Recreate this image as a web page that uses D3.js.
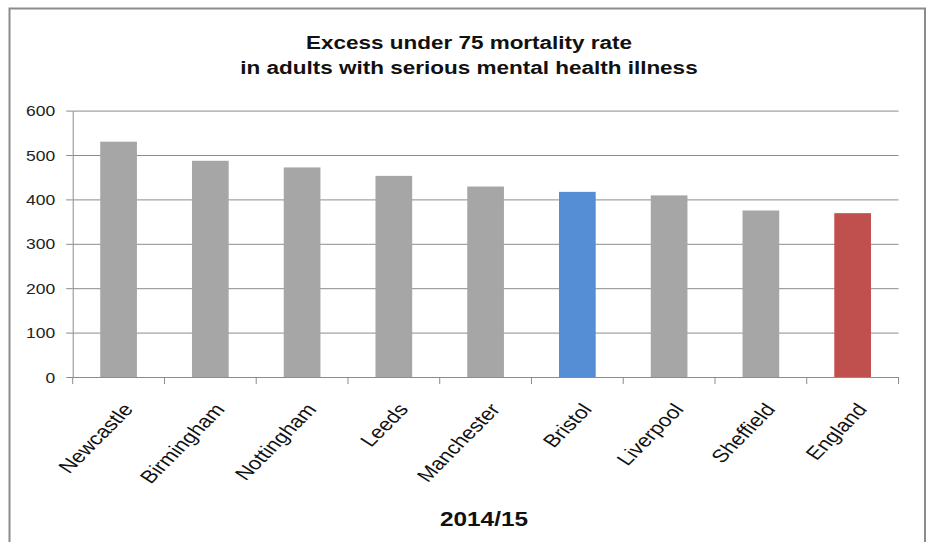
<!DOCTYPE html>
<html>
<head>
<meta charset="utf-8">
<script src="https://cdn.jsdelivr.net/npm/d3@7"></script>
<style>
  html, body { margin: 0; padding: 0; background: #fff; }
  svg { display: block; }
  text { font-family: "Liberation Sans", Arial, sans-serif; }
</style>
</head>
<body>
<script>
const categories = ["Newcastle", "Birmingham", "Nottingham", "Leeds", "Manchester", "Bristol", "Liverpool", "Sheffield", "England"];
const values = [530, 487, 472, 453, 429, 417, 409, 375, 369];
const yTicks = [0, 100, 200, 300, 400, 500, 600];
const titleLines = ["Excess under 75 mortality rate", "in adults with serious mental health illness"];
const xTitle = "2014/15";

const W = 931, H = 542;
const SX = 1.25; // horizontal stretch of text seen in the reference
const plotLeft = 72.7, plotRight = 898.5, plotTop = 110.6, plotBottom = 377;

const svg = d3.select("body").append("svg").attr("width", W).attr("height", H);
svg.append("rect").attr("width", W).attr("height", H).attr("fill", "#fff");

// outer chart border
svg.append("rect").attr("x", 9.5).attr("y", 8.5).attr("width", 915.5).attr("height", 560)
  .attr("fill", "none").attr("stroke", "#8c8c8c").attr("stroke-width", 2);

const x = d3.scaleBand().domain(categories).range([plotLeft, plotRight]).paddingInner(0.6).paddingOuter(0.3);
const y = d3.scaleLinear().domain([0, 600]).range([plotBottom, plotTop]);

// gridlines
const grid = svg.append("g").attr("transform", `translate(${plotLeft},0)`)
  .call(d3.axisRight(y).tickValues(yTicks).tickSize(plotRight - plotLeft).tickFormat(""));
grid.select(".domain").remove();
grid.selectAll("line").attr("stroke", "#8c8c8c").attr("stroke-width", 1);

// y axis
const ya = svg.append("g").attr("transform", `translate(${plotLeft},0)`)
  .call(d3.axisLeft(y).tickValues(yTicks).tickSize(6.5).tickSizeOuter(0));
ya.select(".domain").attr("stroke", "#8c8c8c");
ya.selectAll("line").attr("stroke", "#8c8c8c");
ya.selectAll("text")
  .attr("x", null).attr("dy", null)
  .attr("text-anchor", "end")
  .attr("font-size", 14).attr("fill", "#222")
  .attr("font-family", "Liberation Sans, Arial, sans-serif")
  .attr("transform", d => `translate(-17.5,${5})scale(${SX},1)`);

// bars
const colorFor = c => c === "Bristol" ? "#558ed5" : (c === "England" ? "#c0504d" : "#a6a6a6");
svg.append("g").selectAll("rect").data(categories).join("rect")
  .attr("x", d => x(d))
  .attr("y", (d, i) => y(values[i]))
  .attr("width", x.bandwidth())
  .attr("height", (d, i) => y(0) - y(values[i]))
  .attr("fill", d => colorFor(d));

// x axis
const step = x.step();
const offset = (step - x.bandwidth()) / 2;
const bounds = categories.map(c => x(c) - offset).concat([x(categories[categories.length - 1]) + x.bandwidth() + offset]);
const xa = svg.append("g").attr("transform", `translate(0,${plotBottom})`)
  .call(d3.axisBottom(x).tickValues([]).tickSizeOuter(0));
xa.select(".domain").attr("stroke", "#8c8c8c");
xa.selectAll(".bt").data(bounds).join("line").attr("class", "bt")
  .attr("x1", d => d).attr("x2", d => d).attr("y1", 0).attr("y2", 7)
  .attr("stroke", "#8c8c8c");
xa.selectAll(".lbl").data(categories).join("text").attr("class", "lbl")
  .attr("text-anchor", "end")
  .attr("font-size", 18).attr("fill", "#111")
  .attr("transform", d => `translate(${x(d) + x.bandwidth() / 2 + 15.5},${32.8})scale(${SX},1)rotate(-51.3)`)
  .text(d => d);

// title
svg.append("g").selectAll("text").data(titleLines).join("text")
  .attr("text-anchor", "middle")
  .attr("font-size", 18).attr("font-weight", "bold").attr("fill", "#111")
  .attr("transform", (d, i) => `translate(469,${48.5 + i * 25})scale(${SX},1)`)
  .text(d => d);

// x title
svg.append("text")
  .attr("text-anchor", "middle")
  .attr("font-size", 20).attr("font-weight", "bold").attr("fill", "#111")
  .attr("transform", `translate(484,526)scale(1.22,1)`)
  .text(xTitle);
</script>
</body>
</html>
